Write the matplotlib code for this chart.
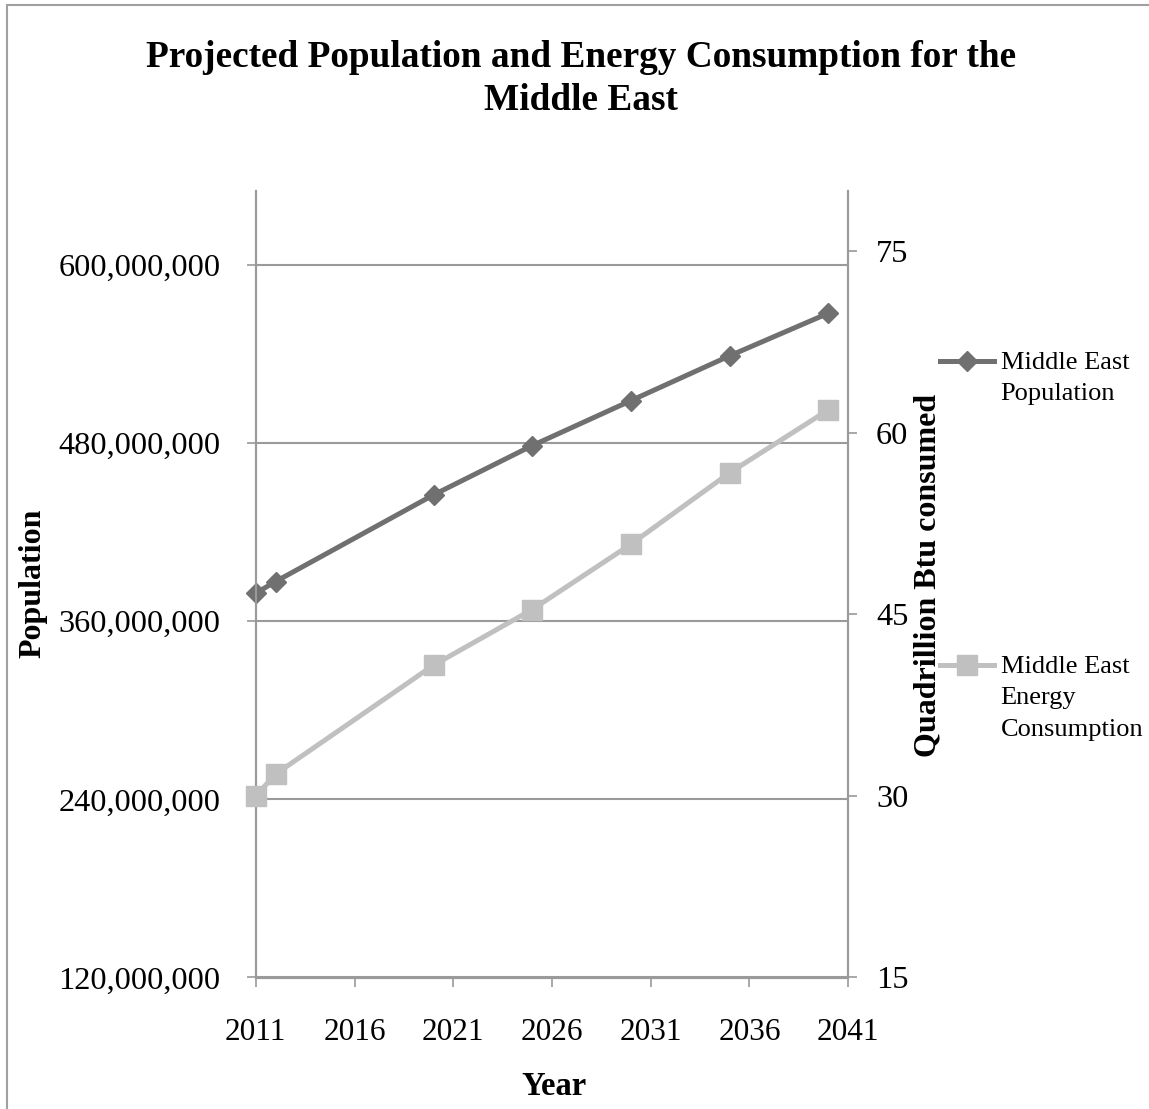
import matplotlib.pyplot as plt
from matplotlib.patches import Rectangle
from matplotlib.ticker import FuncFormatter, MultipleLocator

plt.rcParams['font.family'] = ['Liberation Serif', 'DejaVu Serif']

years = [2011, 2012, 2020, 2025, 2030, 2035, 2040]
population = [378.9e6, 386.7e6, 445.1e6, 478.3e6, 508.6e6, 538.8e6, 567.5e6]
energy = [30.0, 31.8, 40.8, 45.4, 50.8, 56.7, 61.9]
year_ticks = [2011, 2016, 2021, 2026, 2031, 2036, 2041]

pop_color = '#707070'
energy_color = '#c0c0c0'
axis_color = '#9a9a9a'

fig = plt.figure(figsize=(11.49, 11.09), dpi=100)
ax = fig.add_axes([255.8/1149, 1-977.5/1109, 592.4/1149, 786.8/1109])
ax2 = ax.twinx()

l1, = ax.plot(years, population, color=pop_color, lw=3.6, marker='D', ms=10,
              label='Middle East\nPopulation', zorder=3, clip_on=False)
l2, = ax2.plot(years, energy, color=energy_color, lw=3.6, marker='s', ms=14,
               label='Middle East\nEnergy\nConsumption', zorder=3, clip_on=False)

ax.set_xlim(2011, 2041)
ax.set_ylim(120e6, 650e6)
ax2.set_ylim(15, 80)
ax.set_xticks(year_ticks)
ax.yaxis.set_major_locator(MultipleLocator(120e6))
ax2.yaxis.set_major_locator(MultipleLocator(15))
ax.yaxis.set_major_formatter(FuncFormatter(lambda v, p: f'{int(round(v)):,}'))

ax.grid(axis='y', color=axis_color, lw=1.5)
ax.set_axisbelow(True)

for a in (ax, ax2):
    a.spines['top'].set_visible(False)
    for s in ('left', 'right', 'bottom'):
        a.spines[s].set_color(axis_color)
        a.spines[s].set_linewidth(1.5)
ax.tick_params(axis='y', direction='out', length=6.5, width=1.2, color=axis_color,
               labelsize=23.3, pad=19)
ax.tick_params(axis='x', direction='out', length=6.5, width=1.2, color=axis_color,
               labelsize=22.5, pad=23)
ax2.tick_params(axis='y', direction='out', length=6.5, width=1.2, color=axis_color,
                labelsize=23.3, pad=13.5)

ax.set_ylabel('Population', fontsize=23, fontweight='bold', ha='center', va='center')
ax.yaxis.set_label_coords(-0.377, 0.501)
ax.set_xlabel('Year', fontsize=23.5, fontweight='bold', ha='center', va='center')
ax.xaxis.set_label_coords(0.503, -0.139)
ax2.set_ylabel('Quadrillion Btu consumed', fontsize=23, fontweight='bold',
               ha='center', va='center')
ax2.yaxis.set_label_coords(1.1347, 0.5116)

fig.text(0.5055, 1-40/1109, 'Projected Population and Energy Consumption for the\nMiddle East',
         ha='center', va='top', fontsize=26.8, fontweight='bold', linespacing=1.3)

leg = fig.legend(handles=[l1, l2], loc='upper left',
                 bbox_to_anchor=(940/1149, 1-352/1109), frameon=False,
                 fontsize=19, handlelength=2.05, handletextpad=0.25,
                 labelspacing=9.5, borderpad=0, borderaxespad=0)
for t in leg.get_texts():
    t.set_linespacing(1.55)
for col in leg._legend_handle_box.get_children():
    for item in col.get_children():
        item.align = 'top'

fig.add_artist(Rectangle((7/1149, -0.05), 1.2, 1.05 - 5/1109, fill=False,
                         ec='#a0a0a0', lw=1.5, transform=fig.transFigure))

fig.savefig('out.png', dpi=100)
